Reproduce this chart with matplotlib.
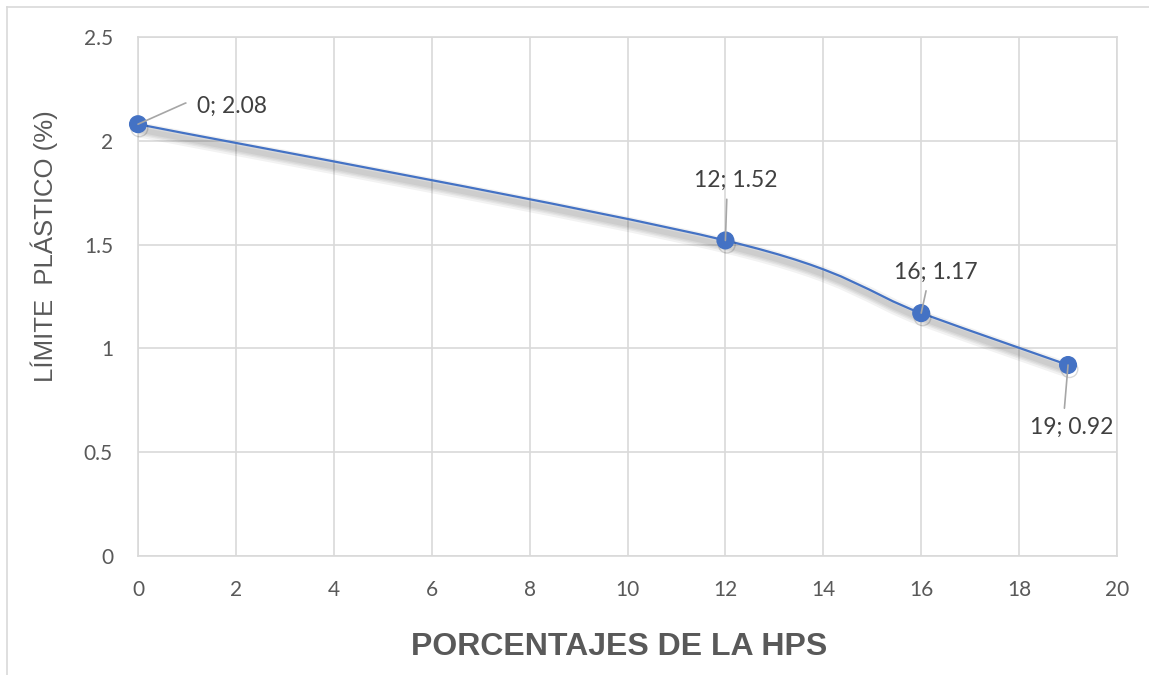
import matplotlib
matplotlib.use("Agg")
from matplotlib import pyplot as plt
from matplotlib.path import Path
from matplotlib.patches import PathPatch
import matplotlib.patheffects as pe
import numpy as np

# data
hps = [0, 12, 16, 19]
limite = [2.08, 1.52, 1.17, 0.92]
labels = ["0; 2.08", "12; 1.52", "16; 1.17", "19; 0.92"]

x_ticks = [0, 2, 4, 6, 8, 10, 12, 14, 16, 18, 20]
y_ticks = [0, 0.5, 1, 1.5, 2, 2.5]

blue = "#4472C4"
grey_txt = "#595959"
grid_c = "#d9d9d9"

fig = plt.figure(figsize=(11.49, 6.75), dpi=100)
ax = fig.add_axes([138 / 1149, 1 - 556 / 675, (1117 - 138) / 1149, (556 - 37) / 675])

# outer chart frame (top + left only visible)
fig.add_artist(plt.Line2D([7 / 1149, 1.0], [1 - 7 / 675, 1 - 7 / 675], transform=fig.transFigure, color=grid_c, lw=1.2))
fig.add_artist(plt.Line2D([7 / 1149, 7 / 1149], [0, 1 - 7 / 675], transform=fig.transFigure, color=grid_c, lw=1.2))

ax.set_xlim(0, 20)
ax.set_ylim(0, 2.5)
ax.set_xticks(x_ticks)
ax.set_yticks(y_ticks)
ax.set_yticklabels(["0", "0.5", "1", "1.5", "2", "2.5"])
ax.grid(True, color=grid_c, lw=1.2)
ax.set_axisbelow(True)
for s in ax.spines.values():
    s.set_color(grid_c)
    s.set_linewidth(1.2)
ax.tick_params(length=0, labelsize=15, labelcolor=grey_txt)
ax.tick_params(axis="x", pad=17)
ax.tick_params(axis="y", pad=18)
for t in ax.get_xticklabels() + ax.get_yticklabels():
    t.set_fontfamily("Lato")

# smoothed line like excel (bezier through the points)
pts = np.column_stack([hps, limite]).astype(float)
verts = [tuple(pts[0])]
codes = [Path.MOVETO]
n = len(pts)
for i in range(n - 1):
    p0 = pts[max(i - 1, 0)]
    p1 = pts[i]
    p2 = pts[i + 1]
    p3 = pts[min(i + 2, n - 1)]
    c1 = p1 + (p2 - p0) / 6.0
    c2 = p2 - (p3 - p1) / 6.0
    verts += [tuple(c1), tuple(c2), tuple(p2)]
    codes += [Path.CURVE4] * 3

shadow = [pe.SimpleLineShadow(offset=(1, -4), shadow_color="k", alpha=0.05, linewidth=w) for w in (11, 8, 6, 4)]
curve = PathPatch(Path(verts, codes), facecolor="none", edgecolor=blue, lw=1.6, zorder=3,
                  path_effects=shadow + [pe.Normal()])
ax.add_patch(curve)

ax.plot(hps, limite, "o", color=blue, ms=12, zorder=4, clip_on=False,
        path_effects=[pe.SimpleLineShadow(offset=(1, -3), shadow_color="k", alpha=0.15), pe.Normal()])

# data labels with leader lines
offsets = [(94, 18), (10, 60), (15, 41), (4, -62)]
for x, y, lab, off in zip(hps, limite, labels, offsets):
    if x == 0:
        ap = dict(arrowstyle="-", color="#a6a6a6", lw=1.2, shrinkA=6, shrinkB=0,
                  relpos=(0, 0.65), connectionstyle="angle,angleA=0,angleB=24,rad=0")
    else:
        rel = (0.4, 0) if off[1] > 0 else (0.4, 1)
        ap = dict(arrowstyle="-", color="#a6a6a6", lw=1.2, shrinkA=4, shrinkB=0, relpos=rel)
    ax.annotate(lab, xy=(x, y), xytext=off, textcoords="offset pixels",
                ha="center", va="center", fontsize=16.5, color="#404040", family="Lato",
                arrowprops=ap, zorder=5)

fig.text(619 / 1149, 1 - 647 / 675, "PORCENTAJES DE LA HPS", ha="center", va="center",
         fontsize=23, fontweight="bold", color=grey_txt, family="Liberation Sans")
fig.text(44 / 1149, 1 - 246 / 675, "LÍMITE  PLÁSTICO (%)", ha="center", va="center", rotation=90,
         fontsize=18.5, color=grey_txt, family="Liberation Sans")

fig.savefig("out.png", dpi=100)
